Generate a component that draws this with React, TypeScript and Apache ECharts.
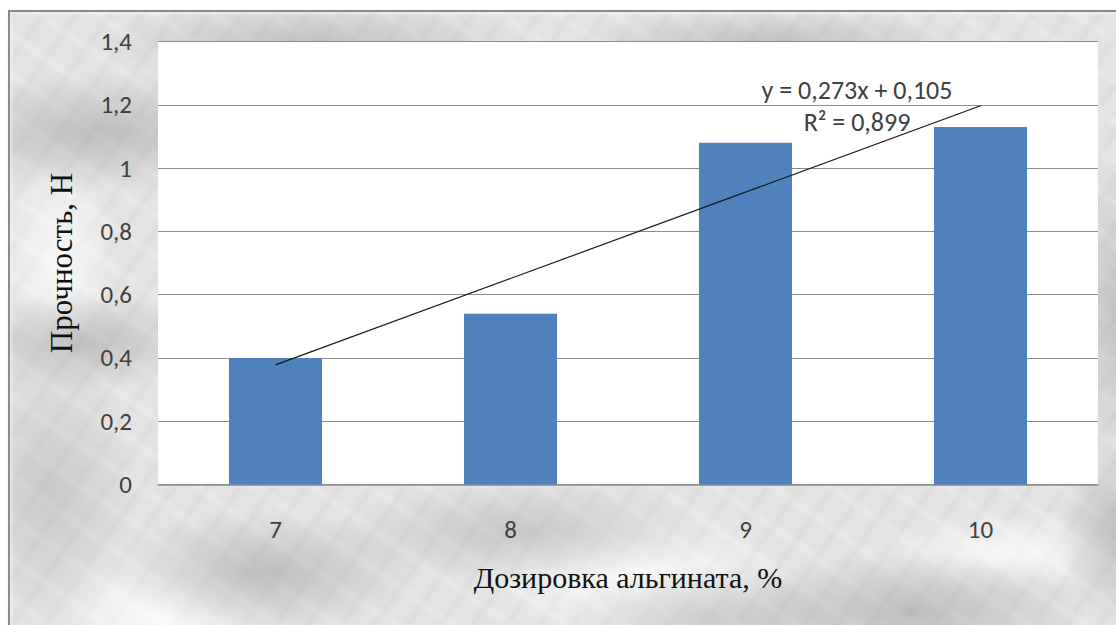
import React, { useEffect, useRef } from "react";
import * as echarts from "echarts";

// Alginate dosage, %, and gel strength, N
const CATEGORIES = ["7", "8", "9", "10"];
const STRENGTH = [0.4, 0.54, 1.08, 1.13];

// Linear trend y = a·x + b over category index x = 1..4
const TREND_SLOPE = 0.273;
const TREND_INTERCEPT = 0.105;
const TREND_R2 = 0.899;

const Y_MIN = 0;
const Y_MAX = 1.4;
const Y_STEP = 0.2;

const fmt = (v: number, digits: number) =>
  String(+v.toFixed(digits)).replace(".", ",");

const SANS = "Carlito, Lato, sans-serif";
const SERIF = "'Liberation Serif', 'Times New Roman', serif";

// Marble-like backdrop made of soft gradients
const marble = [
  "radial-gradient(ellipse 180px 60px at 90px 120px, rgba(150,150,150,0.5), transparent)",
  "radial-gradient(ellipse 120px 50px at 70px 330px, rgba(140,140,140,0.45), transparent)",
  "radial-gradient(ellipse 90px 140px at 40px 480px, rgba(160,160,160,0.4), transparent)",
  "radial-gradient(ellipse 220px 40px at 300px 30px, rgba(150,150,150,0.45), transparent)",
  "radial-gradient(ellipse 200px 30px at 760px 28px, rgba(140,140,140,0.4), transparent)",
  "radial-gradient(ellipse 160px 60px at 250px 560px, rgba(140,140,140,0.45), transparent)",
  "radial-gradient(ellipse 200px 50px at 520px 520px, rgba(150,150,150,0.4), transparent)",
  "radial-gradient(ellipse 180px 60px at 900px 600px, rgba(140,140,140,0.45), transparent)",
  "radial-gradient(ellipse 150px 50px at 700px 605px, rgba(160,160,160,0.4), transparent)",
  "radial-gradient(ellipse 60px 160px at 1110px 300px, rgba(150,150,150,0.45), transparent)",
  "radial-gradient(ellipse 60px 90px at 1108px 520px, rgba(140,140,140,0.45), transparent)",
  "radial-gradient(ellipse 120px 80px at 150px 600px, rgba(255,255,255,0.85), transparent)",
  "radial-gradient(ellipse 160px 80px at 620px 560px, rgba(255,255,255,0.8), transparent)",
  "radial-gradient(ellipse 60px 120px at 50px 250px, rgba(255,255,255,0.75), transparent)",
  "radial-gradient(ellipse 140px 40px at 1000px 540px, rgba(255,255,255,0.7), transparent)",
  "repeating-linear-gradient(125deg, rgba(120,120,120,0.08) 0px, rgba(120,120,120,0.08) 4px, transparent 4px, transparent 27px)",
  "repeating-linear-gradient(35deg, rgba(255,255,255,0.22) 0px, rgba(255,255,255,0.22) 7px, transparent 7px, transparent 33px)",
].join(", ");

export default function App() {
  const ref = useRef<HTMLDivElement>(null);

  useEffect(() => {
    if (!ref.current) return;
    const chart = echarts.init(ref.current, undefined, { renderer: "svg" });

    const trend = CATEGORIES.map((_, i) => TREND_SLOPE * (i + 1) + TREND_INTERCEPT);

    chart.setOption({
      animation: false,
      backgroundColor: "transparent",
      grid: { left: 158, right: 18, top: 41.5, bottom: 140.5, containLabel: false },
      xAxis: {
        type: "category",
        data: CATEGORIES,
        axisLine: { show: true, lineStyle: { color: "#8c8c8c", width: 1.5 } },
        axisTick: { show: false },
        axisLabel: {
          margin: 32,
          fontSize: 25,
          color: "#404040",
          fontFamily: SANS,
        },
        name: "Дозировка альгината, %",
        nameLocation: "middle",
        nameGap: 78,
        nameTextStyle: { fontSize: 30, color: "#111", fontFamily: SERIF },
      },
      yAxis: {
        type: "value",
        min: Y_MIN,
        max: Y_MAX,
        interval: Y_STEP,
        axisLine: { show: false },
        axisTick: { show: false },
        splitLine: { lineStyle: { color: "#8c8c8c", width: 1 } },
        axisLabel: {
          margin: 26,
          fontSize: 25,
          color: "#404040",
          fontFamily: SANS,
          formatter: (v: number) => fmt(v, 1),
        },
        name: "Прочность, Н",
        nameLocation: "middle",
        nameRotate: 90,
        nameGap: 81,
        nameTextStyle: { fontSize: 31, color: "#111", fontFamily: SERIF },
      },
      series: [
        {
          type: "bar",
          data: STRENGTH,
          barWidth: "39.6%",
          itemStyle: { color: "#4f81bd" },
          z: 2,
        },
        {
          type: "line",
          data: trend,
          symbol: "none",
          lineStyle: { color: "#1a1a1a", width: 1.2 },
          z: 3,
        },
      ],
      graphic: [
        {
          type: "rect",
          shape: { x: 9, y: 11, width: 1200, height: 700 },
          style: { fill: "none", stroke: "#8a8a8a", lineWidth: 2 },
          silent: true,
        },
        {
          type: "text",
          x: 857,
          y: 90,
          style: {
            text: `y = ${fmt(TREND_SLOPE, 3)}x + ${fmt(TREND_INTERCEPT, 3)}`,
            fontSize: 26,
            fill: "#404040",
            fontFamily: SANS,
            textAlign: "center",
            textVerticalAlign: "middle",
          },
        },
        {
          type: "text",
          x: 857,
          y: 122,
          style: {
            text: `R² = ${fmt(TREND_R2, 3)}`,
            fontSize: 26,
            fill: "#404040",
            fontFamily: SANS,
            textAlign: "center",
            textVerticalAlign: "middle",
          },
        },
      ],
    });

    return () => chart.dispose();
  }, []);

  return (
    <div
      style={{
        position: "fixed",
        left: 0,
        top: 0,
        width: 1116,
        height: 625,
        background: "#fff",
        overflow: "hidden",
      }}
    >
      <div
        style={{
          position: "absolute",
          left: 10,
          top: 12,
          width: 1120,
          height: 630,
          backgroundColor: "#e3e3e3",
          backgroundImage: marble,
          filter: "blur(2px)",
        }}
      />
      <div
        style={{
          position: "absolute",
          left: 158,
          top: 41.5,
          width: 940,
          height: 443,
          background: "#fff",
        }}
      />
      <div
        ref={ref}
        style={{ position: "absolute", left: 0, top: 0, width: 1116, height: 625 }}
      />
    </div>
  );
}
